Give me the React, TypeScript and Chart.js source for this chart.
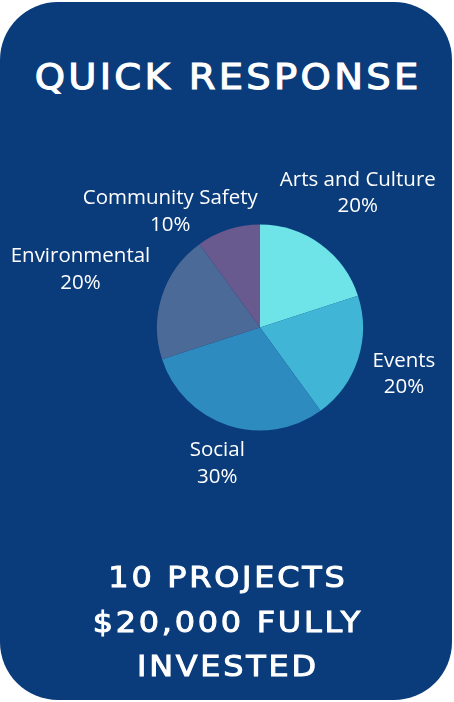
import React, { useEffect, useRef } from "react";
import { Chart, registerables } from "chart.js";

Chart.register(...registerables);

const categories = ["Arts and Culture", "Events", "Social", "Environmental", "Community Safety"];
const shares = [20, 20, 30, 20, 10];
const sliceColors = ["#6ee3e8", "#41b5d6", "#2e8bbf", "#4c6a97", "#685a8e"];
const titleText = "QUICK RESPONSE";
const footerLines = ["10 PROJECTS", "$20,000 FULLY", "INVESTED"];

const NAVY = "#0a3b7a";

// label layout nudges (px) relative to an anchor at 1.5x radius on the slice mid-angle
const labelNudges = [
  [7, -9.5],
  [-3, -1],
  [5, -11],
  [-32.6, -10],
  [-42, 31],
];

const outsideLabels = {
  id: "outsideLabels",
  afterDatasetsDraw(chart: any) {
    const ctx = chart.ctx;
    const meta = chart.getDatasetMeta(0);
    const data = chart.data.datasets[0].data as number[];
    ctx.save();
    ctx.fillStyle = "#ffffff";
    ctx.font = "20.5px 'Open Sans'";
    ctx.textAlign = "center";
    ctx.textBaseline = "middle";
    meta.data.forEach((arc: any, i: number) => {
      const p = arc.getProps(["x", "y", "startAngle", "endAngle", "outerRadius"], true);
      const mid = (p.startAngle + p.endAngle) / 2;
      const d = p.outerRadius * 1.5;
      const cx = p.x + Math.cos(mid) * d + labelNudges[i][0];
      const cy = p.y + Math.sin(mid) * d + labelNudges[i][1];
      const lines = [String(chart.data.labels[i]), data[i] + "%"];
      const lh = 26.5;
      lines.forEach((t, k) => {
        ctx.fillText(t, cx, cy + (k - (lines.length - 1) / 2) * lh);
      });
    });
    ctx.restore();
  },
};

export default function App() {
  const ref = useRef<HTMLCanvasElement | null>(null);
  useEffect(() => {
    if (!ref.current) return;
    const chart = new Chart(ref.current, {
      type: "pie",
      data: {
        labels: categories,
        datasets: [
          {
            data: shares,
            backgroundColor: sliceColors,
            borderWidth: 0,
          },
        ],
      },
      options: {
        animation: false,
        responsive: false,
        maintainAspectRatio: false,
        layout: { padding: { left: 157, right: 91, top: 224, bottom: 271 } },
        plugins: {
          legend: { display: false },
          tooltip: { enabled: false },
          title: { display: false },
        },
      },
      plugins: [outsideLabels],
    });
    return () => chart.destroy();
  }, []);

  const headFont = "'DejaVu Sans', sans-serif";
  return (
    <div style={{ position: "fixed", left: 0, top: 0, width: 454, height: 702, background: "#ffffff", overflow: "hidden" }}>
      <div
        style={{
          position: "absolute",
          left: 0,
          top: 2,
          width: 452,
          height: 698,
          borderRadius: 58,
          background: NAVY,
        }}
      />
      <div
        style={{
          position: "absolute",
          left: 1,
          width: 451,
          top: 60,
          textAlign: "center",
          color: "#ffffff",
          fontFamily: headFont,
          fontWeight: 400,
          fontSize: 35,
          lineHeight: "35px",
          letterSpacing: 3,
          paddingLeft: 3,
          boxSizing: "border-box",
          whiteSpace: "nowrap",
          WebkitTextStroke: "1.1px #ffffff",
          transform: "scaleX(1.1)",
        }}
      >
        {titleText}
      </div>
      <canvas ref={ref} width={454} height={702} style={{ position: "absolute", left: 0, top: 0, width: 454, height: 702 }} />
      <div
        style={{
          position: "absolute",
          left: 1,
          width: 451,
          top: 555,
          textAlign: "center",
          color: "#ffffff",
          fontFamily: headFont,
          fontWeight: 400,
          fontSize: 29,
          lineHeight: "44.5px",
          letterSpacing: 2.5,
          paddingLeft: 2.5,
          boxSizing: "border-box",
          whiteSpace: "nowrap",
          WebkitTextStroke: "1px #ffffff",
          transform: "scaleX(1.1)",
        }}
      >
        {footerLines.map((l) => (
          <div key={l}>{l}</div>
        ))}
      </div>
    </div>
  );
}
